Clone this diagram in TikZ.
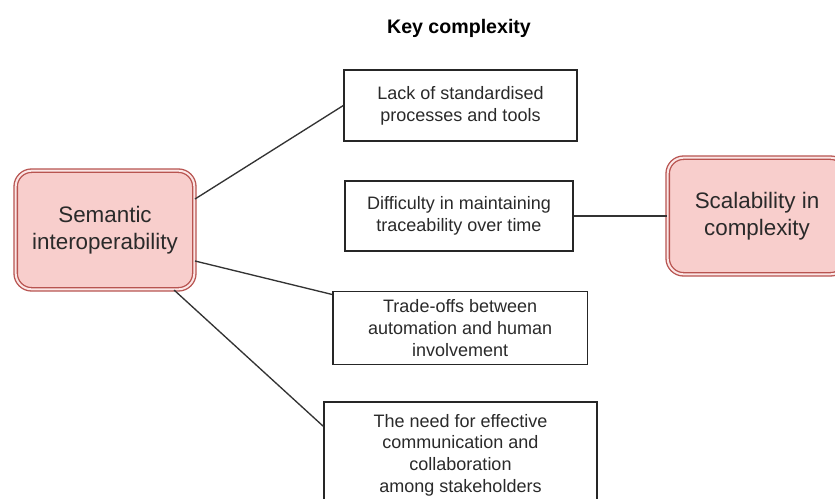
\documentclass[tikz,border=0pt]{standalone}
\usepackage{fontspec}
\setmainfont{Liberation Sans}
\usetikzlibrary{calc}
\definecolor{pinkfill}{HTML}{F8CECC}
\definecolor{redline}{HTML}{B85450}
\definecolor{txt}{HTML}{2A2A2A}
\definecolor{edge}{HTML}{333333}
\begin{document}
\begin{tikzpicture}[x=0.75pt,y=-0.75pt,
  box/.style={draw=black!85, line width=1pt, fill=white, text=txt,
    font=\fontsize{13.5pt}{16.3pt}\selectfont, align=center, inner sep=0pt},
  topic/.style={draw=redline, double=pinkfill!50!white, double distance=1.5pt,
    line width=1pt, fill=pinkfill, rounded corners=12pt, text=txt,
    font=\fontsize{16.8pt}{20.3pt}\selectfont, align=center, inner sep=0pt,
    minimum width=134pt},
  link/.style={draw=edge, line width=1pt}]
\clip (0,0) rectangle (835,499);
\fill[white] (0,0) rectangle (835,499);

\node[font=\bfseries\fontsize{14.7pt}{17pt}\selectfont, text=black] (title) at (459,28) {Key complexity};

\node[topic, minimum height=89pt] (sem) at (105,230) {Semantic\\interoperability};
\node[topic, minimum height=87.5pt] (sca) at (757,216) {Scalability in\\complexity};

\node[box, minimum width=174.75pt, minimum height=53.25pt] (b1) at (460.5,105.5)
  {Lack of standardised\\processes and tools};
\node[box, minimum width=171pt, minimum height=52.5pt] (b2) at (459,216)
  {Difficulty in maintaining\\traceability over time};
\node[box, minimum width=190.9pt, minimum height=54.5pt] (b3) at (460.2,328)
  {Trade-offs between\\automation and human\\involvement};
\node[box, minimum width=204.75pt, minimum height=79.5pt] (b4) at (460.5,455)
  {The need for effective\\communication and\\collaboration\\among stakeholders};

\coordinate (b3in) at ($(b3.north west)+(0,3.5)$);
\coordinate (b4in) at ($(b4.north west)+(0,25)$);

\draw[link] (sem.19) -- (b1.west);
\draw[link] (sem.-19) -- (b3in);
\draw[link] (sem.-41.4) -- (b4in);
\draw[link] (b2.east) -- (sca.west);
\end{tikzpicture}
\end{document}
